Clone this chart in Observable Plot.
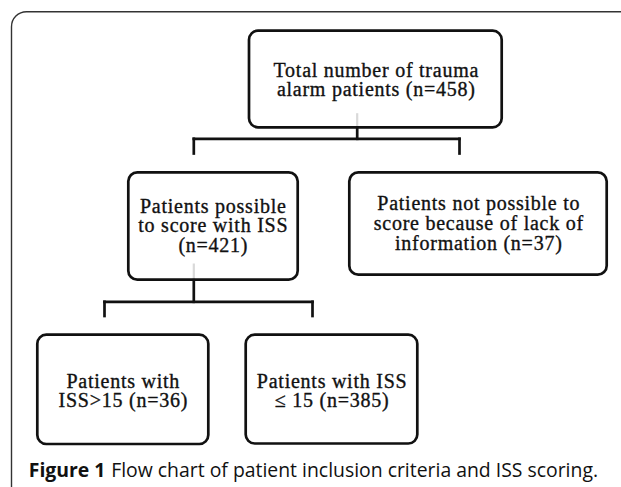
<!DOCTYPE html>
<html><head><meta charset="utf-8">
<script src="https://cdn.jsdelivr.net/npm/d3@7"></script>
<script src="https://cdn.jsdelivr.net/npm/@observablehq/plot@0.6"></script>
<style>
html,body{margin:0;padding:0;background:#fff;}
#chart{width:621px;height:487px;overflow:hidden;}
#chart svg{display:block;}
</style></head>
<body><div id="chart"></div>
<script>
// Flow-chart content
const boxLabels = [
  "Total number of trauma\nalarm patients (n=458)",
  "Patients possible\nto score with ISS\n(n=421)",
  "Patients not possible to\nscore because of lack of\ninformation (n=37)",
  "Patients with\nISS>15 (n=36)",
  "Patients with ISS\n≤ 15 (n=385)"
];
const counts = [458, 421, 37, 36, 385];
const captionLabel = "Figure 1";
const caption = "Flow chart of patient inclusion criteria and ISS scoring.";

// Layout (pixel coordinates of the diagram)
const boxX1 = [249, 128.3, 349.3, 37.3, 245.7];
const boxX2 = [501.7, 297.7, 606.7, 208.3, 417.3];
const boxY1 = [30.7, 172.3, 172.3, 334.7, 334.7];
const boxY2 = [127.3, 279.7, 274.7, 444, 443.5];
const textX = [375.8, 212.8, 478.3, 122.8, 331.6];
const textBaseline = [95.8, 251.5, 249.2, 406.8, 406.8];

const boxes = boxLabels.map((label, i) => ({
  label, n: counts[i], x1: boxX1[i], x2: boxX2[i], y1: boxY1[i], y2: boxY2[i],
  tx: textX[i], ty: textBaseline[i]
}));

// connectors: [x1, y1, x2, y2]
const connectors = [
  [356.7, 127.3, 356.7, 138.3], [193.3, 138.3, 459, 138.3], [193.3, 138.3, 193.3, 153], [459, 138.3, 459, 153],
  [193.3, 279.7, 193.3, 301.3], [104, 301.3, 312, 301.3], [104, 301.3, 104, 315.5], [312, 301.3, 312, 315.5]
].map(([x1, y1, x2, y2]) => ({x1, y1, x2, y2}));
const faint = [
  [356.7, 112.7, 356.7, 127], [193.3, 263, 193.3, 279]
].map(([x1, y1, x2, y2]) => ({x1, y1, x2, y2}));

const serif = "'Liberation Serif', 'Times New Roman', serif";
const sans = "'Open Sans', 'Noto Sans', sans-serif";

const plot = Plot.plot({
  width: 621, height: 487,
  margin: 0,
  x: {domain: [0, 621], range: [0, 621], axis: null},
  y: {domain: [0, 487], range: [0, 487], axis: null},
  style: {background: "#fff", overflow: "hidden"},
  marks: [
    // outer frame (only top and left edges are visible)
    Plot.rect([{x1: 11.5, x2: 680, y1: 11.7, y2: 540}], {
      x1: "x1", x2: "x2", y1: "y1", y2: "y2", rx: 15,
      fill: "none", stroke: "#333", strokeWidth: 1.4
    }),
    Plot.link(faint, {x1: "x1", y1: "y1", x2: "x2", y2: "y2", stroke: "#d9d9d9", strokeWidth: 2.2}),
    Plot.link(connectors, {x1: "x1", y1: "y1", x2: "x2", y2: "y2", stroke: "#111", strokeWidth: 2.7, strokeLinecap: "square"}),
    Plot.rect(boxes, {
      x1: "x1", x2: "x2", y1: "y1", y2: "y2", rx: 9,
      fill: "none", stroke: "#111", strokeWidth: 2.7
    }),
    Plot.text(boxes, {
      x: "tx", y: "ty", text: "label", lineAnchor: "bottom", lineHeight: 0.985,
      fontSize: 20, fontFamily: serif, fill: "#111", stroke: "#111", strokeWidth: 0.35,
      textAnchor: "middle"
    }),
    Plot.text([captionLabel], {
      x: 28.3, y: 476.3, text: d => d, textAnchor: "start", lineAnchor: "bottom",
      fontSize: 19.4, fontWeight: "bold", fontFamily: sans, fill: "#111"
    }),
    Plot.text([caption], {
      x: 110.7, y: 476.3, text: d => d, textAnchor: "start", lineAnchor: "bottom",
      fontSize: 19.4, fontFamily: sans, fill: "#111"
    })
  ]
});
// widen the box labels slightly to match the reference's wider serif face
const textGroups = plot.querySelectorAll('g[aria-label="text"]');
if (textGroups.length) textGroups[0].style.letterSpacing = "0.75px";
document.getElementById("chart").appendChild(plot);
</script></body></html>
